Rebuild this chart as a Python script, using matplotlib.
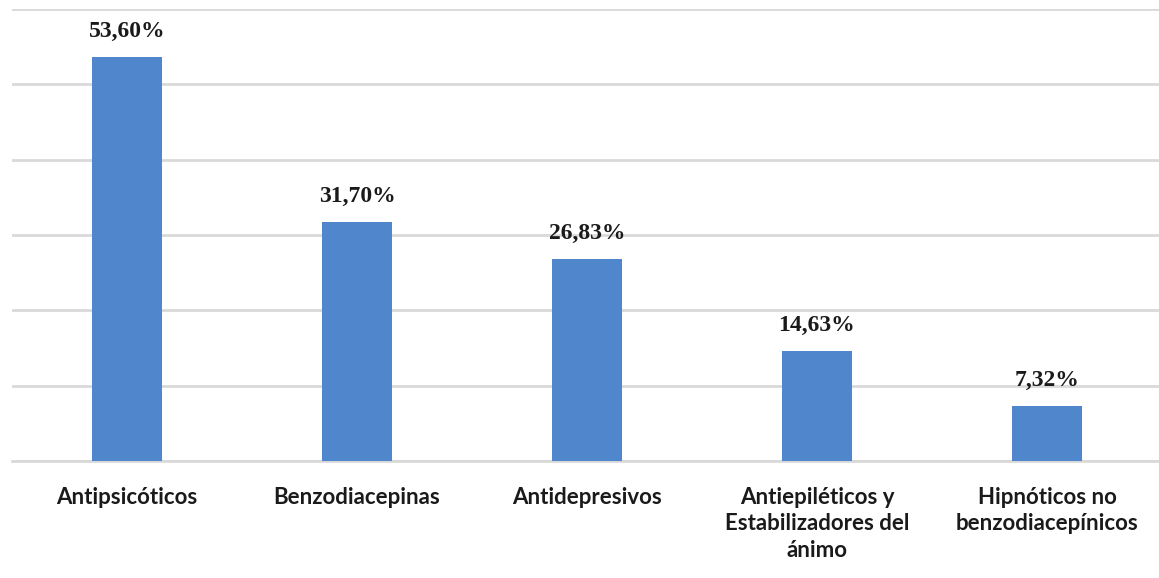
import numpy as np
import matplotlib.pyplot as plt

categorias = ['Antipsicóticos', 'Benzodiacepinas', 'Antidepresivos',
              'Antiepiléticos y\nEstabilizadores del\nánimo',
              'Hipnóticos no\nbenzodiacepínicos']
porcentajes = [53.60, 31.70, 26.83, 14.63, 7.32]
etiquetas = ['53,60%', '31,70%', '26,83%', '14,63%', '7,32%']

fig = plt.figure(figsize=(11.59, 5.78), dpi=100)
ax = fig.add_axes([12 / 1159, 117 / 578, 1150 / 1159, 452 / 578])

ind = np.arange(len(categorias))
rects = ax.bar(ind, porcentajes, 0.305, color='#4f86cc', zorder=3)

# value labels above each bar
for rect, label in zip(rects, etiquetas):
    ax.annotate(label, (rect.get_x() + rect.get_width() / 2, rect.get_height()),
                xytext=(0, 15), textcoords='offset pixels',
                ha='center', va='bottom', fontsize=17, fontweight='bold',
                family='Liberation Serif', color='#1a1a1a')

ax.set_xlim(-0.5, len(categorias) - 0.5)
ax.set_ylim(0, 60)
ax.set_yticks(np.arange(0, 61, 10))
ax.yaxis.grid(True, color='#d9d9d9', linewidth=2, zorder=0)
ax.tick_params(axis='y', left=False, labelleft=False)
ax.tick_params(axis='x', bottom=False, pad=15)
ax.set_xticks(ind)
ax.set_xticklabels(categorias, fontsize=16, fontweight='bold', family='Lato',
                   color='#1a1a1a', linespacing=1.32, va='top')
for side in ['top', 'right', 'left']:
    ax.spines[side].set_visible(False)
ax.spines['bottom'].set_color('#d9d9d9')
ax.spines['bottom'].set_linewidth(2)

plt.savefig('out.png', dpi=100)
